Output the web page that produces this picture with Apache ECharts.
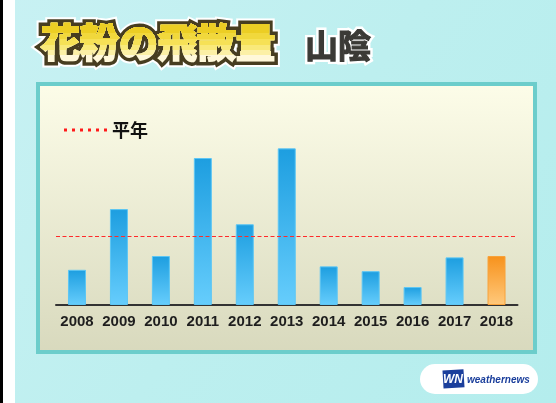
<!DOCTYPE html>
<html>
<head>
<meta charset="utf-8">
<style>
  html, body { margin: 0; padding: 0; }
  #chart { width: 556px; height: 403px; }
</style>
<script src="https://cdn.jsdelivr.net/npm/echarts@6/dist/echarts.min.js"></script>
</head>
<body>
<div id="chart"></div>
<script>
// 飛散量 (平年 = 100)
var years = ['2008', '2009', '2010', '2011', '2012', '2013', '2014', '2015', '2016', '2017', '2018'];
var amounts = [51, 139, 71, 213, 117, 227, 56, 49, 26, 69, 71];
var normalValue = 100;
var currentYear = '2018';

(function () {
    var chart = echarts.init(document.getElementById('chart'));
    var G = echarts.graphic;

    var blueBar = {
        color: new G.LinearGradient(0, 0, 0, 1, [
            { offset: 0, color: '#1d9ee0' },
            { offset: 1, color: '#66cdfc' }
        ]),
        borderColor: '#5cc6f4',
        borderWidth: 1
    };
    var orangeBar = {
        color: new G.LinearGradient(0, 0, 0, 1, [
            { offset: 0, color: '#f7921c' },
            { offset: 1, color: '#ffc97c' }
        ]),
        borderColor: '#f8a23a',
        borderWidth: 1
    };

    var barData = amounts.map(function (v, i) {
        return { value: v, itemStyle: years[i] === currentYear ? orangeBar : blueBar };
    });

    var titleText = '花粉の飛散量';
    var titleFont = 'bold 39px "Noto Sans CJK JP"';
    var subFont = 'bold 33px "Noto Sans CJK JP"';
    var titleX = 41, titleY = 42;

    // 文字を線幅違いで重ねて縁取りにする
    function layered(text, font, x, y, layers, baseZ) {
        return layers.map(function (l, k) {
            return {
                type: 'text', silent: true, z: baseZ + k, x: x, y: y,
                style: {
                    text: text, font: font, verticalAlign: 'middle',
                    fill: l.color, stroke: l.color, lineWidth: l.width, lineJoin: 'round'
                }
            };
        });
    }

    var dots = 'path://M0,0h3v3h-3z M8,0h3v3h-3z M16,0h3v3h-3z M24,0h3v3h-3z M32,0h3v3h-3z M40,0h3v3h-3z';

    var graphics = [
        // 背景
        {
            type: 'rect', z: -10, silent: true,
            shape: { x: 0, y: 0, width: 556, height: 403 },
            style: {
                fill: new G.LinearGradient(0, 0, 1, 1, [
                    { offset: 0, color: '#c8f1f3' },
                    { offset: 0.5, color: '#bdefef' },
                    { offset: 1, color: '#b4eded' }
                ])
            }
        },
        { type: 'rect', z: -10, silent: true, shape: { x: 0, y: 0, width: 15, height: 403 }, style: { fill: '#ffffff' } },
        { type: 'rect', z: -10, silent: true, shape: { x: 0, y: 0, width: 3, height: 403 }, style: { fill: '#000000' } },
        // パネル
        {
            type: 'rect', z: -5, silent: true,
            shape: { x: 38, y: 84, width: 497, height: 268 },
            style: {
                fill: new G.LinearGradient(0, 0, 0, 1, [
                    { offset: 0, color: '#fdfde9' },
                    { offset: 1, color: '#d8d9bd' }
                ]),
                stroke: '#6ccdcb',
                lineWidth: 4
            }
        },
        // ロゴ
        {
            type: 'rect', z: 1, silent: true,
            shape: { x: 420, y: 364, width: 118, height: 30, r: 15 },
            style: { fill: '#ffffff' }
        },
        {
            type: 'rect', z: 2, silent: true, rotation: 0.06, originX: 453, originY: 379,
            shape: { x: 443, y: 370, width: 21, height: 18 },
            style: { fill: '#1b3f9c' }
        },
        {
            type: 'text', z: 3, silent: true, x: 453, y: 380,
            style: { text: 'WN', font: 'italic bold 12px "Liberation Sans"', align: 'center', verticalAlign: 'middle', fill: '#ffffff' }
        },
        {
            type: 'text', z: 3, silent: true, x: 467, y: 380,
            style: { text: 'weathernews', font: 'italic bold 10px "Liberation Sans"', verticalAlign: 'middle', fill: '#1b3f9c' }
        }
    ];
    graphics = graphics
        .concat(layered(titleText, titleFont, titleX, titleY, [
            { color: '#ffffff', width: 13 },
            { color: '#473d20', width: 9 }
        ], 10))
        .concat(layered('山陰', subFont, 305, 45, [
            { color: '#ffffff', width: 6 },
            { color: '#3b3a36', width: 1.2 }
        ], 10));

    var option = {
        animation: false,
        graphic: graphics,
        legend: {
            left: 59,
            top: 116,
            icon: dots,
            itemWidth: 43,
            itemHeight: 3,
            itemGap: 10,
            data: ['平年'],
            textStyle: {
                fontFamily: 'Noto Sans CJK JP',
                fontWeight: 'bold',
                fontSize: 18,
                color: '#111111'
            }
        },
        grid: {
            left: 56,
            right: 38.5,
            top: 132.5,
            bottom: 98
        },
        xAxis: {
            type: 'category',
            data: years,
            axisLine: { lineStyle: { color: '#333333', width: 2 } },
            axisTick: { show: false },
            axisLabel: {
                interval: 0,
                margin: 9,
                fontFamily: 'Liberation Sans',
                fontWeight: 'bold',
                fontSize: 15,
                color: '#1e1e1e'
            }
        },
        yAxis: {
            type: 'value',
            min: 0,
            max: 250,
            show: false,
            splitLine: { show: false }
        },
        series: [
            {
                name: '量',
                type: 'bar',
                barWidth: 18,
                data: barData
            },
            {
                name: '平年',
                type: 'line',
                data: [],
                symbol: 'none',
                color: '#ff1a1a',
                itemStyle: { color: '#ff1a1a' },
                markLine: {
                    silent: true,
                    symbol: 'none',
                    label: { show: false },
                    lineStyle: { color: '#ff2a2a', width: 1, type: [4, 2.5] },
                    data: [{ yAxis: normalValue }]
                }
            }
        ]
    };
    chart.setOption(option);

    // タイトル本体の黄色グラデーション: 上から切り抜いた帯を重ねる
    var bands = [
        { until: 403, color: '#fff8da' },
        { until: 55, color: '#fcf0a6' },
        { until: 50, color: '#f9e97a' },
        { until: 45, color: '#f6e156' },
        { until: 39, color: '#f1d83c' },
        { until: 33, color: '#ecce24' }
    ];
    var zr = chart.getZr();
    bands.forEach(function (b, k) {
        var t = new G.Text({
            x: titleX, y: titleY, z: 30 + k, silent: true,
            style: {
                text: titleText, font: titleFont, verticalAlign: 'middle',
                fill: b.color, stroke: b.color, lineWidth: 2, lineJoin: 'round'
            }
        });
        t.setClipPath(new G.Rect({
            shape: { x: -20, y: -titleY, width: 320, height: b.until }
        }));
        zr.add(t);
    });
})();
</script>
</body>
</html>
